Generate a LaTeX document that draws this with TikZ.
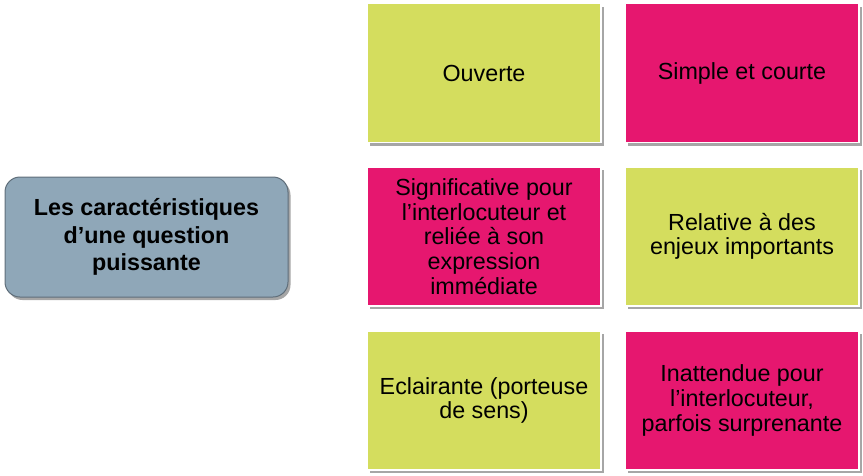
\documentclass[tikz,border=0pt]{standalone}
\usepackage{fontspec}
\setmainfont{Liberation Sans}
\usetikzlibrary{shadows}
\definecolor{cgreen}{HTML}{D4DD5E}
\definecolor{cpink}{HTML}{E6176F}
\definecolor{cblue}{HTML}{8FA7B8}
\definecolor{cblueedge}{HTML}{5F6E7A}
\tikzset{
  card/.style={draw=white, line width=1.2pt, minimum width=234pt, minimum height=139pt,
    align=center, inner sep=0pt, font=\fontsize{23.3}{24.6}\selectfont,
    drop shadow={shadow xshift=2.5pt, shadow yshift=-3pt, fill=black, opacity=0.35}},
  greencard/.style={card, fill=cgreen},
  pinkcard/.style={card, fill=cpink},
  mainbox/.style={draw=cblueedge, line width=1pt, fill=cblue, rounded corners=15pt,
    minimum width=283pt, minimum height=120pt, align=center,
    font=\fontsize{23.3}{27.5}\selectfont\bfseries,
    drop shadow={shadow xshift=2.5pt, shadow yshift=-3pt, fill=black, opacity=0.35}}
}
\begin{document}
\begin{tikzpicture}[x=1pt, y=-1pt]
\useasboundingbox (0,0) rectangle (863,475);
\node[mainbox] (m) at (146.5,237) {Les caractéristiques\\d’une question\\puissante};
\node[greencard] (a) at (484,73) {Ouverte};
\node[pinkcard] (b) at (742,73) {Simple et courte};
\node[pinkcard] (c) at (484,236.5) {Significative pour\\l’interlocuteur et\\reliée à son\\expression\\immédiate};
\node[greencard] (d) at (742,236.5) {Relative à des\\enjeux importants};
\node[greencard] (e) at (484,400.5) {Eclairante (porteuse\\de sens)};
\node[pinkcard] (f) at (742,400.5) {Inattendue pour\\l’interlocuteur,\\parfois surprenante};
\end{tikzpicture}
\end{document}
